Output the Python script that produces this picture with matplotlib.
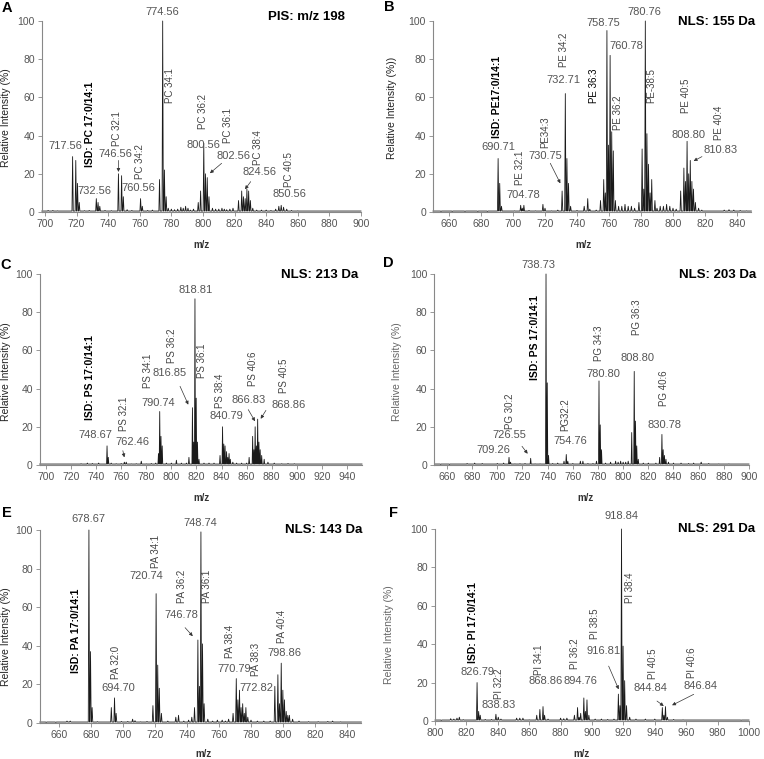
import matplotlib
matplotlib.use("Agg")
import matplotlib.pyplot as plt

plt.rcParams['font.family'] = ['Liberation Sans', 'DejaVu Sans']

# ---- peak lists (m/z, relative intensity %) ----
a_mz = [702, 705, 708, 711, 717.5, 719.5, 720.6, 721.7, 725, 728, 732.5, 733.6, 734.7, 738, 742,
        746.5, 748.5, 749.6, 752, 755, 760.5, 761.6, 765, 768, 772.5, 774.5, 775.6, 776.7, 778,
        780, 782, 784, 786, 787.5, 789, 790.5, 792, 794, 797, 798.5, 800.5, 801.6, 802.7, 803.8,
        806, 808, 810, 812, 813.5, 815, 817, 819, 822.5, 824.5, 825.6, 826.7, 827.8, 828.9, 830, 831.5,
        834, 837, 840, 843, 846, 848, 849.5, 851, 853, 856, 860, 866, 872, 880, 892]
a_int = [0.8, 0.8, 0.6, 0.5, 29, 27, 15, 5, 0.7, 0.8, 7, 5, 3, 0.8, 0.7,
         20, 19, 8, 1.2, 0.8, 7, 3, 0.8, 1, 17, 100, 22, 8, 2,
         1.5, 1.2, 1.5, 2.5, 2, 3, 2, 1, 1.5, 5, 11, 36, 20, 18, 8,
         2, 1.5, 1.5, 2, 1.5, 1.2, 1.5, 2, 6, 11, 8, 7, 12, 11, 6, 2,
         1, 1, 1, 0.8, 1.5, 3, 3.5, 2.5, 1.5, 0.8, 0.6, 0.5, 0.5, 0.5, 0.5]

b_mz = [655, 662, 670, 678, 684, 690.7, 691.7, 692.8, 697, 701, 704.8, 705.8, 706.8, 710, 714,
        718.7, 720, 724, 728, 730.7, 732.7, 733.7, 734.7, 736, 740, 744.5, 746.7, 748, 752,
        754.7, 756.7, 757.7, 758.7, 759.7, 760.7, 761.7, 762.7, 764, 766, 768, 770, 772, 774, 776,
        778.7, 780.7, 781.7, 782.7, 783.7, 784.7, 785.7, 786.7, 788.7, 790, 792, 794, 796, 798, 800,
        802, 804.8, 806.8, 807.8, 808.8, 809.8, 810.8, 811.8, 812.8, 814, 816, 818, 822, 828,
        832, 835, 838, 842, 846]
b_int = [0.3, 0.3, 0.3, 0.3, 0.3, 28, 15, 3, 0.5, 0.6, 3.5, 2, 3.5, 0.8, 0.6,
         4, 2, 0.6, 1, 11, 62, 28, 15, 3, 0.8, 3, 7, 1.5, 1,
         6, 17, 10, 95, 35, 82, 42, 32, 6, 3, 3, 4, 3, 3, 2,
         5, 33, 12, 100, 41, 25, 10, 17, 6, 2, 3, 3, 4, 3, 2,
         1.5, 11, 23, 16, 37, 20, 27, 16, 12, 5, 2, 1, 0.5, 0.5,
         1, 1.2, 1, 0.8, 0.6]

c_mz = [705, 712, 720, 728, 733, 737, 742, 748.7, 749.7, 752, 756, 760, 762.5, 764, 768, 772, 776,
        780, 784, 787.5, 789.7, 790.7, 791.7, 792.7, 796, 800, 804, 808, 812, 814, 816.8, 817.8,
        818.8, 819.8, 820.8, 822, 826, 830, 834, 838.8, 840.8, 841.8, 842.8, 844, 845, 846, 847, 849,
        852, 856, 860, 862, 864.8, 865.8, 866.8, 867.8, 868.8, 869.8, 870.8, 872, 874, 877, 882, 888,
        893, 898, 905, 915, 925, 935, 945]
c_int = [0.5, 0.5, 0.5, 0.7, 1, 0.8, 1, 10, 4, 1, 0.7, 0.8, 1.5, 1.5, 0.6, 0.7, 2,
         0.6, 0.8, 1, 6, 28, 15, 10, 1, 1, 2.5, 1, 1, 4, 30, 12,
         87, 35, 12, 3, 1, 1, 1, 5, 20, 11, 10, 7, 4, 6, 3, 1.5,
         1, 1, 1, 4, 15, 8, 20, 10, 24, 12, 8, 5, 3, 1.5, 1, 0.7,
         0.8, 0.7, 0.5, 0.5, 0.5, 0.5, 0.5]

d_mz = [655, 662, 670, 676, 682, 688, 694, 700, 705, 709.3, 710.5, 714, 718, 722, 726.5, 730, 734,
        738.7, 739.7, 740.7, 744, 748, 753, 754.8, 756, 760, 766, 768, 772, 776, 778.8, 780.8, 781.8,
        782.8, 786, 790, 794, 796, 798, 800, 802, 804, 806.8, 808.8, 809.8, 810.8, 812, 816, 820, 826,
        829, 830.8, 831.8, 832.8, 834, 836, 840, 846, 852, 856, 862, 868, 876, 884, 892]
d_int = [0.3, 0.3, 0.5, 0.8, 1, 0.8, 0.5, 0.8, 1, 4, 1.5, 0.6, 0.7, 0.8, 3.5, 0.6, 0.6,
         100, 43, 5, 0.8, 1, 2, 5.5, 2, 0.8, 2, 2, 0.8, 0.8, 2, 44, 21,
         8, 1, 1.5, 2, 1.5, 2, 1.5, 1.5, 2, 17, 49, 23, 10, 3, 1, 1, 1,
         4, 16, 8, 5, 3, 1.5, 1, 1, 0.8, 1, 1.5, 0.8, 0.6, 0.6, 0.5]

e_mz = [652, 658, 665, 667, 672, 676, 678.7, 679.7, 680.7, 684, 688, 692.7, 694.7, 695.7, 699, 703,
        706, 707.5, 711, 715, 718.7, 720.7, 721.7, 722.7, 724, 728, 733, 734.7, 738, 741, 743, 744.7,
        746.8, 747.8, 748.7, 749.7, 750.7, 753, 756, 759, 762, 764, 766, 768.8, 770.8, 771.8, 772.8,
        773.8, 774.8, 775.8, 776.8, 778, 780, 784, 788, 792, 794.9, 796.8, 797.8, 798.9, 799.9, 800.9,
        802, 803, 804, 806, 810, 816, 822, 828, 831, 836, 842]
e_int = [0.3, 0.3, 1, 1, 0.5, 0.5, 100, 37, 8, 0.7, 0.5, 8, 13, 5, 0.8, 0.8,
         2, 1.2, 0.6, 0.8, 9, 67, 30, 18, 5, 1, 3, 4, 1, 1.5, 3, 8,
         43, 19, 99, 41, 10, 2, 1, 1.5, 1.5, 1, 2, 5, 23, 12, 17,
         8, 10, 5, 8, 3, 1.5, 1, 1, 1, 19, 25, 10, 31, 17, 12,
         6, 4, 4, 2, 1, 0.7, 0.7, 0.8, 1, 0.6, 0.5]

f_mz = [804, 810, 812, 814, 815.5, 818, 822, 826.8, 827.8, 828.8, 832, 836, 838.8, 840.3, 842, 846,
        852, 854, 856, 860, 864.8, 866.8, 868.8, 869.8, 872, 876, 880, 882, 884, 888.8, 890.8, 891.8,
        892.8, 894.8, 895.8, 896.8, 898, 902, 906, 910, 914, 916.8, 917.8, 918.8, 919.8, 920.8, 922,
        924, 928, 934, 940, 944.8, 945.8, 946.8, 948, 952, 958, 966, 975, 984, 995]
f_int = [0.3, 1.2, 1, 1.5, 2, 0.7, 0.5, 20, 5, 3, 0.8, 0.8, 3.5, 2, 1, 0.5,
         1.5, 1.5, 1.5, 0.6, 3, 6, 7.5, 3, 1, 0.5, 1.5, 1.2, 1.5, 3, 7, 2,
         4, 12, 5, 11, 3, 1, 1, 0.8, 1, 14, 8, 100, 39, 21, 8,
         2, 1, 1, 1, 7, 3, 7.5, 2, 0.8, 0.6, 0.5, 0.5, 0.5, 0.4]

x_limits = {'A': (698, 900), 'B': (650, 849), 'C': (695, 952),
            'D': (650, 900), 'E': (648, 849), 'F': (800, 1000)}
titles = {'A': 'PIS: m/z 198', 'B': 'NLS: 155 Da', 'C': 'NLS: 213 Da',
          'D': 'NLS: 203 Da', 'E': 'NLS: 143 Da', 'F': 'NLS: 291 Da'}

W, H = 764, 759
fig = plt.figure(figsize=(W / 100, H / 100), dpi=100)

GREY = '#555555'


def box(l, r, t, b):
    return [l / W, 1 - b / H, (r - l) / W, (b - t) / H]


def spectrum(ax, mz, inten, lims, w=0.4, base=0.5):
    xs, ys = [lims[0]], [base]
    for m, h in sorted(zip(mz, inten)):
        xs += [m - w, m, m + w]
        ys += [base, h, base]
    xs.append(lims[1])
    ys.append(base)
    ax.plot(xs, ys, color='#1a1a1a', lw=0.6, clip_on=False)


def style(ax, key, ticks):
    ax.set_xlim(*x_limits[key])
    ax.set_ylim(0, 100)
    ax.set_xticks(ticks)
    ax.set_yticks(range(0, 101, 20))
    for s in ['top', 'right']:
        ax.spines[s].set_visible(False)
    for s in ['left', 'bottom']:
        ax.spines[s].set_color('#888888')
        ax.spines[s].set_linewidth(0.8)
    ax.tick_params(length=3, width=0.6, color='#888888', labelsize=7.5,
                   labelcolor=GREY, pad=2)


def num(ax, x, y, s):
    ax.text(x, y, s, fontsize=8, color=GREY, ha='center', va='center')


def lip(ax, x, y, s, bold=False, color='#444444'):
    ax.text(x, y, s, fontsize=7.5 if bold else 7, rotation=90, ha='center', va='bottom',
            color='black' if bold else color, fontweight='bold' if bold else 'normal')


def arrow(ax, x0, y0, x1, y1):
    ax.annotate('', xy=(x1, y1), xytext=(x0, y0),
                arrowprops=dict(arrowstyle='-|>', lw=0.5, color='#333333',
                                mutation_scale=5, shrinkA=0, shrinkB=0))


def title(ax, x, y, s):
    ax.text(x, y, s, fontsize=9.5, fontweight='bold', ha='right', va='center', color='black')


# ---------- A ----------
axA = fig.add_axes(box(41.8, 361, 21, 212))
style(axA, 'A', range(700, 901, 20))
spectrum(axA, a_mz, a_int, x_limits['A'])
num(axA, 713.1, 34.7, '717.56')
num(axA, 731.6, 11.2, '732.56')
lip(axA, 728.5, 23.5, 'ISD: PC 17:0/14:1', bold=True)
num(axA, 744.3, 30.4, '746.56')
lip(axA, 745.6, 34.5, 'PC 32:1')
arrow(axA, 746.5, 27, 746.5, 21)
num(axA, 759, 12.5, '760.56')
lip(axA, 760, 17.5, 'PC 34:2')
num(axA, 774.5, 104.5, '774.56')
lip(axA, 779, 57, 'PC 34:1')
num(axA, 800.1, 35, '800.56')
lip(axA, 800.1, 43.5, 'PC 36:2')
num(axA, 819, 29.5, '802.56')
arrow(axA, 811.8, 25.5, 804.4, 20.3)
lip(axA, 815.6, 36, 'PC 36:1')
num(axA, 835.6, 20.9, '824.56')
arrow(axA, 830.2, 15.9, 826.6, 11.9)
lip(axA, 834.8, 24.6, 'PC 38:4')
num(axA, 854.6, 9.4, '850.56')
lip(axA, 854.6, 13, 'PC 40:5')
title(axA, 889.9, 102.3, titles['A'])

# ---------- B ----------
axB = fig.add_axes(box(433, 751.4, 21, 212))
style(axB, 'B', range(660, 841, 20))
spectrum(axB, b_mz, b_int, x_limits['B'])
num(axB, 691.1, 34.2, '690.71')
lip(axB, 690, 38.7, 'ISD: PE17:0/14:1', bold=True)
lip(axB, 704.6, 14, 'PE 32:1')
num(axB, 706.7, 8.9, '704.78')
lip(axB, 720.2, 33.3, 'PE34:3')
num(axB, 720.2, 29.5, '730.75')
arrow(axB, 723.3, 25.5, 729.6, 15)
num(axB, 731.7, 69, '732.71')
lip(axB, 732, 76, 'PE 34:2')
lip(axB, 750.8, 57, 'PE 36:3', color='black')
num(axB, 756.7, 99, '758.75')
num(axB, 770.8, 87, '760.78')
lip(axB, 765.6, 43, 'PE 36:2')
num(axB, 782, 104.5, '780.76')
lip(axB, 786.4, 57, 'PE-38:5')
lip(axB, 808.1, 52, 'PE 40:5')
num(axB, 809.4, 40.3, '808.80')
lip(axB, 828.6, 37.7, 'PE 40:4')
num(axB, 829.6, 32.5, '810.83')
arrow(axB, 818.1, 29, 812.9, 26.7)
title(axB, 851.3, 99.6, titles['B'])

# ---------- C ----------
axC = fig.add_axes(box(39.7, 362, 274, 465))
style(axC, 'C', range(700, 941, 20))
spectrum(axC, c_mz, c_int, x_limits['C'])
lip(axC, 735.1, 23.7, 'ISD: PS 17:0/14:1', bold=True)
num(axC, 739.1, 15.9, '748.67')
lip(axC, 762.2, 17.8, 'PS 32:1')
num(axC, 769.1, 11.9, '762.46')
arrow(axC, 761.3, 7.5, 762.5, 4)
lip(axC, 781.3, 40.5, 'PS 34:1')
num(axC, 789.6, 32.2, '790.74')
lip(axC, 800.7, 53.4, 'PS 36:2')
num(axC, 798.3, 48.2, '816.85')
arrow(axC, 806.9, 41.2, 813.5, 31.6)
num(axC, 819.6, 91.8, '818.81')
lip(axC, 824.2, 45.5, 'PS 36:1')
lip(axC, 838.8, 29.8, 'PS 38:4')
num(axC, 844.1, 25.5, '840.79')
lip(axC, 864.8, 41.2, 'PS 40:6')
num(axC, 861.3, 33.9, '866.83')
arrow(axC, 861.3, 29, 866.7, 22.9)
lip(axC, 890, 37.7, 'PS 40:5')
num(axC, 893.2, 31.6, '868.86')
arrow(axC, 875.4, 28.6, 871.2, 24.2)
title(axC, 948.8, 99.6, titles['C'])

# ---------- D ----------
axD = fig.add_axes(box(434.4, 749, 274, 465))
style(axD, 'D', range(660, 901, 20))
spectrum(axD, d_mz, d_int, x_limits['D'])
num(axD, 696.6, 7.7, '709.26')
lip(axD, 710.3, 18.8, 'PG 30:2')
num(axD, 709.8, 15.9, '726.55')
arrow(axD, 719.6, 9.8, 724.1, 5.9)
num(axD, 732.9, 104.9, '738.73')
lip(axD, 730.2, 44.7, 'ISD: PS 17:0/14:1', bold=True)
lip(axD, 753.6, 17.6, 'PG32:2')
num(axD, 758, 12.4, '754.76')
lip(axD, 780.6, 54.3, 'PG 34:3')
num(axD, 784.6, 47.8, '780.80')
lip(axD, 811, 68.2, 'PG 36:3')
num(axD, 811, 56, '808.80')
lip(axD, 832.3, 30.7, 'PG 40:6')
num(axD, 833.1, 21.1, '830.78')
title(axD, 905.6, 99.6, titles['D'])

# ---------- E ----------
axE = fig.add_axes(box(39.8, 361.4, 530, 723))
style(axE, 'E', range(660, 841, 20))
spectrum(axE, e_mz, e_int, x_limits['E'])
num(axE, 678.3, 105.5, '678.67')
lip(axE, 670.6, 26, 'ISD: PA 17:0/14:1', bold=True)
lip(axE, 695.6, 22.6, 'PA 32:0')
num(axE, 697.1, 18.3, '694.70')
lip(axE, 720.4, 80.5, 'PA 34:1')
num(axE, 714.8, 76.2, '720.74')
lip(axE, 736.7, 62.3, 'PA 36:2')
num(axE, 736.2, 55.8, '746.78')
arrow(axE, 738.8, 49.4, 743.6, 45)
num(axE, 748.6, 103.8, '748.74')
lip(axE, 752.7, 62.3, 'PA 36:1')
lip(axE, 766.9, 33.8, 'PA 38:4')
num(axE, 769.3, 27.8, '770.79')
lip(axE, 783.2, 24.4, 'PA 38:3')
num(axE, 783.1, 18.3, '772.82')
lip(axE, 799.2, 41.6, 'PA 40:4')
num(axE, 800.8, 36.4, '798.86')
title(axE, 849.4, 100, titles['E'])

# ---------- F ----------
axF = fig.add_axes(box(435, 749, 529, 721))
style(axF, 'F', range(800, 1001, 20))
spectrum(axF, f_mz, f_int, x_limits['F'])
lip(axF, 824, 30.4, 'ISD: PI 17:0/14:1', bold=True)
num(axF, 826.8, 25.5, '826.79')
lip(axF, 840.6, 11.6, 'PI 32:2')
num(axF, 840.6, 8.3, '838.83')
lip(axF, 866, 24, 'PI 34:1')
num(axF, 870.3, 20.8, '868.86')
lip(axF, 889.4, 26.9, 'PI 36:2')
num(axF, 892.6, 20.8, '894.76')
lip(axF, 902.1, 42.5, 'PI 38:5')
num(axF, 907.4, 36.5, '916.81')
arrow(axF, 910.6, 28.6, 917, 16.5)
num(axF, 919.1, 107, '918.84')
lip(axF, 924.4, 61.6, 'PI 38:4')
lip(axF, 938.7, 21.7, 'PI 40:5')
num(axF, 937.1, 17.3, '844.84')
arrow(axF, 941.4, 10.4, 945.7, 7.8)
lip(axF, 963.7, 22.6, 'PI 40:6')
num(axF, 969, 18.2, '846.84')
arrow(axF, 964.8, 13.9, 951, 8.2)
title(axF, 1003.8, 99.8, titles['F'])


# ---------- figure-level labels ----------
def ftext(px, py, s, **kw):
    fig.text(px / W, 1 - py / H, s, **kw)


for letter, px, py in [('A', 7, 8), ('B', 389, 7), ('C', 6, 265),
                       ('D', 388, 263), ('E', 7, 513), ('F', 394, 513)]:
    ftext(px, py, letter, fontsize=10.5, fontweight='bold', ha='center', va='center')

ylab = 'Relative Intensity (%)'
for s, px, py, col in [(ylab, 6, 118, '#222222'), (ylab + ')', 392, 108, '#222222'),
                       (ylab, 6, 372, '#222222'), (ylab, 397, 372, '#666666'),
                       (ylab, 6, 637, '#222222'), (ylab, 389, 635, '#666666')]:
    ftext(px, py, s, fontsize=7.5, rotation=90, ha='center', va='center', color=col)

for px, py in [(202, 245), (584, 245), (202, 498), (586, 498), (203, 754), (582, 754)]:
    ftext(px, py, 'm/z', fontsize=7, fontweight='bold', ha='center', va='center', color='#333333')

fig.savefig('out.png', dpi=100)
